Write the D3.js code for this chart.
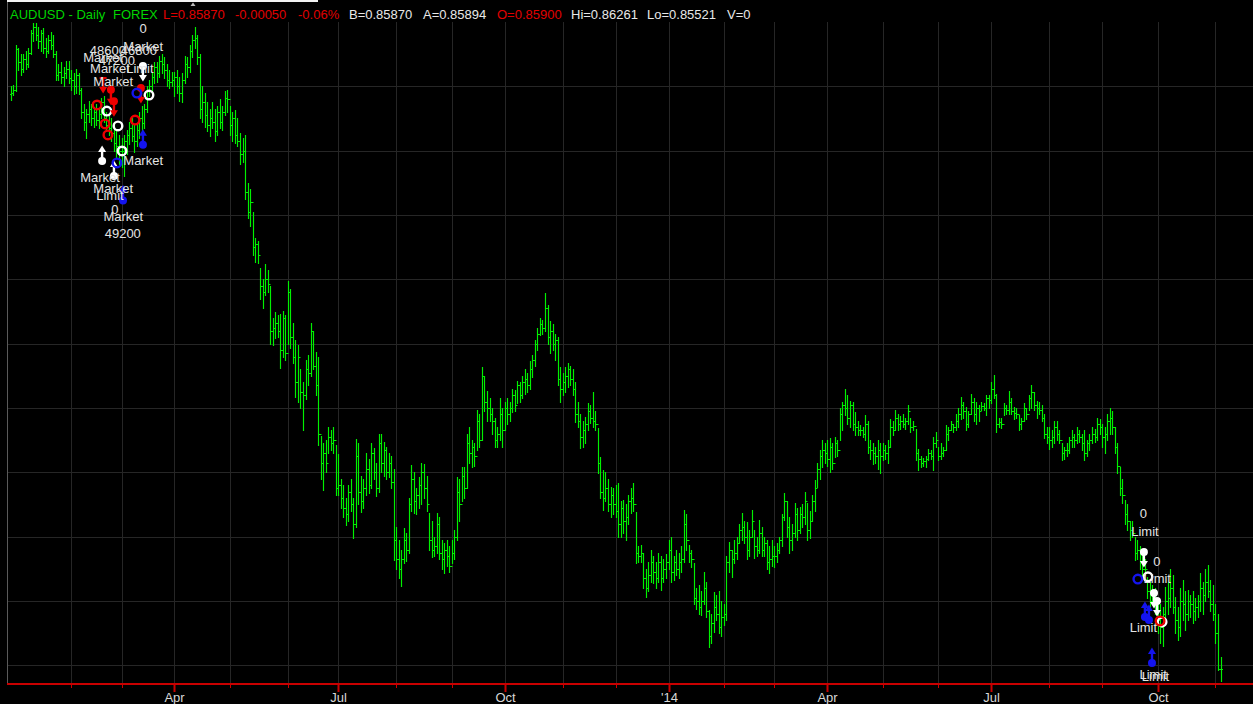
<!DOCTYPE html>
<html><head><meta charset="utf-8">
<script src="https://cdn.jsdelivr.net/npm/d3@7/dist/d3.min.js"></script>
<style>html,body{margin:0;padding:0;background:#000;overflow:hidden}svg{display:block}</style>
</head><body>
<svg id="c" width="1253" height="704"></svg>
<script>
// ---------- DATA ----------
const firstDay = "2012-12-28", lastDay = "2014-11-05";
const holidays = ["12-25", "01-01"];
const firstOpen = 1.0375;

const high = [
1.0400,1.0405,
1.0530,1.0520,1.0500,1.0500,1.0510,1.0520,1.0575,1.0598,1.0596,1.0585,1.0575,1.0580,1.0550,1.0560,1.0570,1.0560,1.0510,1.0470,1.0475,1.0460,1.0480,1.0480,
1.0450,1.0440,1.0455,1.0440,1.0395,1.0345,1.0330,1.0355,1.0345,1.0335,1.0345,1.0330,1.0365,1.0370,1.0320,1.0310,1.0300,1.0285,1.0260,1.0250,
1.0240,1.0250,1.0265,1.0290,1.0300,1.0280,1.0285,1.0320,1.0340,1.0345,1.0400,1.0420,1.0440,1.0475,1.0475,1.0495,1.0500,1.0490,1.0470,1.0450,1.0445,
1.0445,1.0450,1.0430,1.0440,1.0495,1.0490,1.0530,1.0560,1.0583,1.0560,1.0500,1.0400,1.0380,1.0350,1.0330,1.0350,1.0330,1.0340,1.0360,1.0340,1.0385,1.0390,
1.0340,1.0320,1.0325,1.0300,1.0255,1.0240,1.0250,1.0100,1.0080,1.0010,0.9930,0.9920,0.9835,0.9800,0.9848,0.9830,0.9780,0.9680,0.9698,0.9690,0.9692,0.9700,0.9690,
0.9795,0.9770,0.9664,0.9610,0.9596,0.9520,0.9480,0.9550,0.9564,0.9664,0.9640,0.9574,0.9560,0.9313,0.9290,0.9300,0.9340,0.9330,0.9340,0.9285,
0.9256,0.9180,0.9160,0.9120,0.9160,0.9180,0.9120,0.9305,0.9290,0.9190,0.9180,0.9260,0.9240,0.9290,0.9275,0.9230,0.9320,0.9320,0.9295,0.9280,0.9260,0.9250,0.9210,
0.9030,0.8990,0.8960,0.9027,0.9010,0.9120,0.9222,0.9200,0.9150,0.9185,0.9230,0.9225,0.9190,0.9074,0.9050,0.9000,0.9074,0.9060,0.8990,0.8980,0.8990,0.8970,
0.8990,0.9020,0.9185,0.9180,0.9216,0.9215,0.9320,0.9340,0.9300,0.9290,0.9393,0.9380,0.9526,0.9500,0.9454,0.9430,0.9400,0.9370,0.9340,0.9430,0.9400,
0.9420,0.9430,0.9420,0.9460,0.9455,0.9485,0.9480,0.9500,0.9520,0.9510,0.9545,0.9565,0.9610,0.9650,0.9680,0.9675,0.9758,0.9720,0.9670,0.9660,0.9630,0.9620,0.9526,
0.9510,0.9526,0.9540,0.9530,0.9520,0.9480,0.9420,0.9380,0.9360,0.9373,0.9414,0.9410,0.9450,0.9390,0.9338,0.9247,0.9207,0.9200,0.9180,0.9155,0.9150,
0.9160,0.9166,0.9110,0.9114,0.9100,0.9130,0.9150,0.9166,0.9076,0.8970,0.8975,0.8948,0.8900,0.8920,0.8958,0.8940,0.8920,0.8950,0.8940,0.8930,0.8945,
0.8990,0.9000,0.8940,0.8960,0.8950,0.8970,0.9083,0.9070,0.8975,0.8960,0.8918,0.8840,0.8850,0.8830,0.8890,0.8860,0.8772,0.8760,0.8829,0.8820,0.8830,0.8800,
0.8790,0.8940,0.8982,0.8960,0.8990,0.9000,0.9040,0.9074,0.9050,0.9046,0.9020,0.9083,0.9020,0.9000,0.9052,0.9030,0.9000,0.8990,0.8970,0.8990,
0.8970,0.8980,0.9000,0.9070,0.9136,0.9110,0.9062,0.9040,0.9104,0.9090,0.9093,0.9100,0.9140,0.9104,0.9080,0.9130,0.9176,0.9230,0.9270,0.9300,0.9290,
0.9300,0.9306,0.9290,0.9310,0.9300,0.9400,0.9420,0.9460,0.9440,0.9423,0.9420,0.9386,0.9360,0.9346,0.9340,0.9377,0.9360,0.9300,0.9290,0.9280,0.9300,0.9290,
0.9290,0.9285,0.9300,0.9367,0.9360,0.9393,0.9380,0.9375,0.9380,0.9370,0.9408,0.9370,0.9360,0.9336,0.9274,0.9250,0.9245,0.9250,0.9274,0.9270,0.9310,0.9324,
0.9278,0.9290,0.9280,0.9346,0.9340,0.9360,0.9350,0.9380,0.9400,0.9433,0.9420,0.9402,0.9390,0.9445,0.9430,0.9418,0.9410,0.9418,0.9415,0.9440,0.9440,
0.9480,0.9503,0.9445,0.9370,0.9368,0.9414,0.9410,0.9454,0.9430,0.9402,0.9400,0.9377,0.9370,0.9414,0.9400,0.9440,0.9470,0.9450,0.9423,0.9420,0.9410,0.9380,0.9340,
0.9340,0.9330,0.9360,0.9360,0.9330,0.9290,0.9280,0.9290,0.9310,0.9330,0.9320,0.9340,0.9330,0.9320,0.9330,0.9300,0.9320,0.9340,0.9335,0.9370,0.9365,
0.9350,0.9340,0.9380,0.9400,0.9390,0.9340,0.9290,0.9216,0.9180,0.9114,0.9100,0.9050,0.9050,0.9000,0.8990,0.8970,0.8950,0.8930,0.8875,0.8860,0.8850,0.8840,
0.8800,0.8790,0.8780,0.8844,0.8860,0.8900,0.8880,0.8813,0.8780,0.8840,0.8866,0.8830,0.8834,0.8820,0.8830,0.8810,0.8820,0.8887,0.8860,0.8900,0.8912,0.8866,0.8850,
0.8790,0.8760,0.8626];

const low = [
1.0358,1.0372,
1.0385,1.0450,1.0435,1.0445,1.0455,1.0460,1.0500,1.0540,1.0545,1.0520,1.0510,1.0505,1.0490,1.0505,1.0515,1.0490,1.0420,1.0420,1.0410,1.0400,1.0425,1.0410,
1.0390,1.0375,1.0380,1.0375,1.0300,1.0265,1.0240,1.0290,1.0280,1.0275,1.0280,1.0270,1.0300,1.0290,1.0260,1.0250,1.0230,1.0200,1.0180,1.0160,
1.0150,1.0120,1.0190,1.0220,1.0230,1.0195,1.0215,1.0240,1.0260,1.0270,1.0320,1.0370,1.0380,1.0410,1.0415,1.0430,1.0440,1.0425,1.0400,1.0395,1.0400,
1.0370,1.0380,1.0355,1.0350,1.0410,1.0430,1.0445,1.0490,1.0520,1.0470,1.0300,1.0290,1.0275,1.0260,1.0245,1.0270,1.0230,1.0250,1.0270,1.0265,1.0310,1.0320,
1.0250,1.0230,1.0225,1.0215,1.0160,1.0165,1.0050,0.9990,0.9965,0.9875,0.9855,0.9850,0.9740,0.9710,0.9750,0.9760,0.9600,0.9596,0.9617,0.9620,0.9524,0.9560,0.9550,
0.9600,0.9585,0.9540,0.9434,0.9420,0.9400,0.9330,0.9428,0.9470,0.9500,0.9520,0.9440,0.9285,0.9180,0.9145,0.9200,0.9260,0.9270,0.9260,0.9130,
0.9130,0.9090,0.9060,0.9037,0.9050,0.9080,0.8996,0.9030,0.9100,0.9077,0.9090,0.9130,0.9136,0.9150,0.9180,0.9125,0.9140,0.9200,0.9190,0.9180,0.9185,0.9150,0.8928,
0.8900,0.8870,0.8847,0.8918,0.8925,0.8950,0.9080,0.9074,0.9070,0.9090,0.9100,0.9120,0.9080,0.8960,0.8937,0.8940,0.8950,0.8930,0.8900,0.8887,0.8910,0.8890,
0.8918,0.8930,0.8990,0.9050,0.9110,0.9120,0.9150,0.9230,0.9215,0.9220,0.9270,0.9280,0.9300,0.9390,0.9360,0.9360,0.9320,0.9280,0.9280,0.9300,0.9280,
0.9330,0.9350,0.9360,0.9387,0.9390,0.9414,0.9420,0.9430,0.9445,0.9450,0.9460,0.9495,0.9530,0.9580,0.9627,0.9630,0.9640,0.9600,0.9570,0.9580,0.9550,0.9470,0.9420,
0.9440,0.9450,0.9466,0.9470,0.9440,0.9355,0.9340,0.9275,0.9280,0.9290,0.9330,0.9353,0.9340,0.9330,0.9198,0.9120,0.9083,0.9110,0.9080,0.9060,0.9070,
0.9060,0.9000,0.8998,0.9010,0.8990,0.9040,0.9073,0.9080,0.8918,0.8920,0.8922,0.8840,0.8812,0.8830,0.8860,0.8856,0.8840,0.8860,0.8834,0.8860,0.8870,
0.8900,0.8860,0.8866,0.8880,0.8870,0.8890,0.8920,0.8960,0.8920,0.8906,0.8790,0.8774,0.8760,0.8755,0.8790,0.8750,0.8658,0.8670,0.8705,0.8740,0.8700,0.8690,
0.8725,0.8740,0.8890,0.8875,0.8918,0.8930,0.8980,0.8990,0.8980,0.8930,0.8940,0.9000,0.8934,0.8940,0.8950,0.8940,0.8940,0.8900,0.8887,0.8910,
0.8906,0.8920,0.8950,0.8970,0.9052,0.9000,0.8950,0.8960,0.9000,0.8990,0.9011,0.9030,0.9040,0.8990,0.8995,0.9050,0.9080,0.9155,0.9180,0.9216,0.9230,
0.9220,0.9200,0.9210,0.9247,0.9250,0.9300,0.9330,0.9377,0.9350,0.9340,0.9330,0.9315,0.9315,0.9315,0.9310,0.9300,0.9260,0.9240,0.9227,0.9230,0.9210,0.9197,
0.9237,0.9240,0.9230,0.9280,0.9315,0.9330,0.9330,0.9334,0.9340,0.9335,0.9350,0.9324,0.9330,0.9237,0.9206,0.9216,0.9220,0.9216,0.9237,0.9240,0.9206,0.9280,
0.9237,0.9240,0.9250,0.9270,0.9300,0.9330,0.9324,0.9330,0.9340,0.9367,0.9370,0.9330,0.9340,0.9380,0.9360,0.9350,0.9360,0.9393,0.9393,0.9377,0.9400,
0.9414,0.9430,0.9324,0.9340,0.9338,0.9377,0.9380,0.9380,0.9380,0.9367,0.9370,0.9330,0.9335,0.9360,0.9365,0.9393,0.9400,0.9395,0.9370,0.9380,0.9360,0.9306,0.9290,
0.9274,0.9280,0.9290,0.9300,0.9290,0.9237,0.9240,0.9250,0.9260,0.9280,0.9280,0.9290,0.9295,0.9270,0.9237,0.9250,0.9270,0.9290,0.9295,0.9300,0.9320,
0.9280,0.9260,0.9300,0.9320,0.9320,0.9260,0.9197,0.9130,0.9104,0.9040,0.9020,0.8990,0.9000,0.8927,0.8930,0.8900,0.8875,0.8880,0.8810,0.8780,0.8790,0.8760,
0.8700,0.8668,0.8660,0.8740,0.8760,0.8780,0.8763,0.8700,0.8678,0.8690,0.8740,0.8710,0.8740,0.8750,0.8730,0.8740,0.8750,0.8770,0.8760,0.8800,0.8813,0.8770,0.8740,
0.8670,0.8585,0.8552];

const close = [
1.0380,1.0388,
1.0515,1.0475,1.0455,1.0485,1.0470,1.0505,1.0565,1.0585,1.0560,1.0540,1.0565,1.0520,1.0510,1.0545,1.0530,1.0500,1.0435,1.0445,1.0430,1.0440,1.0455,1.0425,
1.0420,1.0400,1.0435,1.0390,1.0320,1.0290,1.0315,1.0330,1.0300,1.0320,1.0295,1.0315,1.0350,1.0300,1.0280,1.0270,1.0255,1.0225,1.0215,1.0200,
1.0200,1.0230,1.0250,1.0270,1.0245,1.0230,1.0265,1.0300,1.0285,1.0330,1.0390,1.0400,1.0430,1.0460,1.0440,1.0480,1.0470,1.0450,1.0420,1.0415,1.0420,
1.0430,1.0400,1.0380,1.0420,1.0470,1.0460,1.0510,1.0545,1.0550,1.0490,1.0330,1.0350,1.0310,1.0280,1.0300,1.0290,1.0260,1.0320,1.0290,1.0320,1.0365,1.0360,
1.0280,1.0300,1.0250,1.0230,1.0190,1.0200,1.0070,1.0010,1.0040,0.9900,0.9910,0.9875,0.9780,0.9760,0.9800,0.9785,0.9640,0.9650,0.9665,0.9640,0.9580,0.9680,0.9570,
0.9760,0.9620,0.9560,0.9480,0.9560,0.9450,0.9440,0.9520,0.9510,0.9640,0.9530,0.9470,0.9320,0.9230,0.9260,0.9230,0.9310,0.9290,0.9300,0.9150,
0.9160,0.9120,0.9090,0.9070,0.9140,0.9100,0.9040,0.9250,0.9140,0.9110,0.9150,0.9210,0.9160,0.9260,0.9200,0.9150,0.9290,0.9230,0.9270,0.9200,0.9230,0.9170,0.8990,
0.8930,0.8900,0.8930,0.8990,0.8960,0.9100,0.9180,0.9110,0.9130,0.9160,0.9200,0.9150,0.9100,0.8990,0.8960,0.8970,0.9040,0.8950,0.8930,0.8960,0.8940,0.8910,
0.8950,0.9000,0.9140,0.9100,0.9190,0.9150,0.9290,0.9260,0.9280,0.9250,0.9360,0.9300,0.9500,0.9420,0.9400,0.9380,0.9360,0.9300,0.9320,0.9380,0.9330,
0.9400,0.9380,0.9400,0.9440,0.9410,0.9470,0.9440,0.9480,0.9490,0.9470,0.9520,0.9550,0.9600,0.9630,0.9660,0.9650,0.9710,0.9620,0.9640,0.9600,0.9610,0.9490,0.9460,
0.9480,0.9500,0.9520,0.9490,0.9460,0.9380,0.9360,0.9310,0.9330,0.9350,0.9390,0.9370,0.9360,0.9350,0.9230,0.9140,0.9120,0.9150,0.9100,0.9130,0.9100,
0.9080,0.9040,0.9090,0.9050,0.9060,0.9110,0.9120,0.9100,0.8950,0.8940,0.8950,0.8870,0.8840,0.8880,0.8920,0.8890,0.8870,0.8920,0.8870,0.8900,0.8920,
0.8960,0.8890,0.8920,0.8900,0.8920,0.8930,0.9040,0.8990,0.8950,0.8930,0.8810,0.8800,0.8780,0.8800,0.8840,0.8770,0.8690,0.8730,0.8780,0.8760,0.8720,0.8750,
0.8760,0.8920,0.8960,0.8930,0.8950,0.8980,0.9020,0.9030,0.9000,0.8960,0.9000,0.9050,0.8970,0.8960,0.9010,0.8960,0.8980,0.8920,0.8930,0.8940,
0.8940,0.8960,0.8990,0.9060,0.9110,0.9030,0.8990,0.9010,0.9070,0.9020,0.9070,0.9060,0.9110,0.9020,0.9050,0.9110,0.9150,0.9210,0.9250,0.9270,0.9260,
0.9240,0.9280,0.9230,0.9290,0.9270,0.9380,0.9410,0.9400,0.9370,0.9410,0.9350,0.9340,0.9330,0.9330,0.9320,0.9350,0.9280,0.9270,0.9260,0.9250,0.9270,0.9250,
0.9270,0.9260,0.9280,0.9340,0.9330,0.9370,0.9350,0.9360,0.9350,0.9360,0.9390,0.9340,0.9345,0.9260,0.9240,0.9230,0.9235,0.9240,0.9260,0.9250,0.9290,0.9300,
0.9250,0.9260,0.9270,0.9320,0.9330,0.9350,0.9340,0.9360,0.9380,0.9410,0.9390,0.9350,0.9380,0.9420,0.9380,0.9400,0.9390,0.9405,0.9400,0.9430,0.9425,
0.9460,0.9440,0.9350,0.9355,0.9350,0.9400,0.9395,0.9420,0.9390,0.9385,0.9380,0.9350,0.9360,0.9400,0.9380,0.9430,0.9450,0.9410,0.9400,0.9395,0.9370,0.9320,0.9310,
0.9300,0.9310,0.9340,0.9320,0.9300,0.9260,0.9270,0.9270,0.9300,0.9310,0.9300,0.9320,0.9310,0.9290,0.9260,0.9290,0.9300,0.9320,0.9310,0.9350,0.9340,
0.9310,0.9320,0.9360,0.9370,0.9340,0.9280,0.9220,0.9150,0.9130,0.9070,0.9050,0.9020,0.9010,0.8950,0.8960,0.8920,0.8900,0.8900,0.8830,0.8800,0.8810,0.8780,
0.8740,0.8720,0.8760,0.8800,0.8810,0.8840,0.8780,0.8740,0.8720,0.8800,0.8790,0.8760,0.8800,0.8790,0.8770,0.8780,0.8800,0.8840,0.8820,0.8860,0.8830,0.8790,0.8760,
0.8700,0.8590,0.8587];

const quarterLabels = ["Apr", "Jul", "Oct", "'14", "Apr", "Jul", "Oct"];
const gridPrices = [0.86, 0.88, 0.90, 0.92, 0.94, 0.96, 0.98, 1.00, 1.02, 1.04];

const titleParts = ["AUDUSD - Daily", "FOREX", "L=0.85870", "-0.00050", "-0.06%", "B=0.85870", "A=0.85894", "O=0.85900", "Hi=0.86261", "Lo=0.85521", "V=0"];
const titleKinds = ["name", "name", "down", "down", "down", "info", "info", "down", "info", "info", "info"];

// trade markers: bar index, price, shape, side
const mkIdx   = [52.5, 54.9, 38.2, 42.6, 44.2, 36.3, 41.0, 449.6, 451.2, 453.6, 454.8, 456.8,
                 36.7, 39.8, 41.0, 34.3, 37.5, 38.6, 49.4, 51.7, 456.0,
                 50.1, 42.2, 52.5, 44.6, 447.2, 450.0, 451.6, 452.8];
const mkPrice = [1.0463, 1.0373, 1.0323, 1.0277, 1.0199, 1.0168, 1.0121, 0.8952, 0.8875, 0.8825, 0.8800, 0.8735,
                 1.0426, 1.0389, 1.0354, 1.0342, 1.0283, 1.0249, 1.0295, 1.0395, 0.8738,
                 1.0379, 1.0162, 1.0218, 1.0045, 0.8868, 0.8750, 0.8741, 0.8607];
const mkShape = ["dotDown","ring","ring","ring","ring","upDot","upDot","dotDown","ring","dotDown","dotDown","ring",
                 "down","dotDown","dotDown","ring","ring","ring","ring","dotDown","ring",
                 "ring","ring","upDot","upDot","ring","upDot","upDot","upDot"];
const mkSide  = ["W","W","W","W","W","W","W","W","W","W","W","W",
                 "R","R","R","R","R","R","R","R","R",
                 "B","B","B","B","B","B","B","B"];

// trade labels: text, bar index, price
const lbText  = ["0","Market","48600","46800","Market","47200","Market","Limit","Market","Market","Market","Market","Limit","0","Market","49200",
                 "0","Limit","0","Limit","Limit","Limit","Limit"];
const lbIdx   = [52.6, 52.6, 38.6, 50.9, 36.7, 42.2, 39.4, 51.3, 40.7, 52.6, 35.5, 40.7, 39.4, 41.4, 44.7, 44.5,
                 449.4, 450.0, 454.7, 454.9, 449.4, 453.3, 454.2];
const lbPrice = [1.0580, 1.0526, 1.0513, 1.0513, 1.0491, 1.0482, 1.0456, 1.0458, 1.0417, 1.0171, 1.0117, 1.0083, 1.0062, 1.0019, 0.9998, 0.9943,
                 0.9073, 0.9019, 0.8924, 0.8871, 0.8720, 0.8573, 0.8568];

// ---------- DRAW ----------
const W = 1253, H = 704;
const svg = d3.select("#c");
const FONT = "'Liberation Sans', Arial, sans-serif";

// trading calendar
const dates = [];
{
  const d = new Date(firstDay + "T12:00:00"), e = new Date(lastDay + "T12:00:00");
  for (; d <= e; d.setDate(d.getDate() + 1)) {
    const wd = d.getDay();
    if (wd === 0 || wd === 6) continue;
    const md = String(d.getMonth() + 1).padStart(2, "0") + "-" + String(d.getDate()).padStart(2, "0");
    if (holidays.includes(md)) continue;
    dates.push(new Date(d));
  }
}
const n = close.length;

const plot = { left: 7, right: W, top: 22, bottom: 684 };
const x = d3.scaleLinear().domain([0, n - 1]).range([10.6, 10.6 + (n - 1) * 2.5207]);
const y = d3.scaleLinear().domain([0.86, 1.06]).range([665.3, 22]);
const px = v => Math.round(x(v)) + 0.5;

svg.append("rect").attr("width", W).attr("height", H).attr("fill", "#000");

// month starts
const monthStarts = d3.range(1, n).filter(i => dates[i].getMonth() !== dates[i - 1].getMonth() && i > 5);
const quarterStarts = monthStarts.filter(i => dates[i].getMonth() % 3 === 0);

// grid
const grid = svg.append("g").attr("stroke", "#262626").attr("stroke-width", 1);
grid.selectAll("line.h").data(gridPrices).join("line")
  .attr("x1", plot.left).attr("x2", plot.right)
  .attr("y1", d => Math.round(y(d)) + 0.5).attr("y2", d => Math.round(y(d)) + 0.5);
grid.selectAll("line.v").data(monthStarts).join("line")
  .attr("x1", d => px(d)).attr("x2", d => px(d))
  .attr("y1", plot.top).attr("y2", plot.bottom);

// left border
svg.append("line").attr("x1", 7.5).attr("x2", 7.5).attr("y1", 0).attr("y2", plot.bottom)
  .attr("stroke", "#5a5a5a").attr("stroke-width", 1);

// OHLC bars
const open = close.map((c, i) => i === 0 ? firstOpen : close[i - 1]);
svg.append("g").attr("stroke", "#00f000").attr("stroke-width", 1.15).attr("fill", "none")
  .selectAll("path").data(d3.range(n)).join("path")
  .attr("d", i => {
    const cx = px(i);
    const yh = Math.round(y(high[i])), yl = Math.round(y(low[i]));
    const yo = Math.round(y(open[i])) + 0.5, yc = Math.round(y(close[i])) + 0.5;
    return `M${cx},${yh}V${yl + 1}M${cx - 1.5},${yo}H${cx}M${cx},${yc}H${cx + 1.5}`;
  });

// axis
const axisG = svg.append("g").attr("transform", `translate(0,${plot.bottom})`);
axisG.append("line").attr("x1", plot.left).attr("x2", W).attr("y1", 0).attr("y2", 0)
  .attr("stroke", "#c80000").attr("stroke-width", 2);
const minorAxis = d3.axisBottom(x).tickValues(monthStarts).tickSize(4).tickFormat("");
const majorAxis = d3.axisBottom(x).tickValues(quarterStarts).tickSize(8).tickFormat((d, k) => quarterLabels[k]);
const gMinor = axisG.append("g").call(minorAxis);
const gMajor = axisG.append("g").call(majorAxis);
[gMinor, gMajor].forEach(g => {
  g.select(".domain").remove();
  g.selectAll(".tick line").attr("stroke", "#c80000");
});
gMinor.selectAll(".tick").attr("transform", d => `translate(${px(d)},0)`);
gMajor.selectAll(".tick").attr("transform", d => `translate(${px(d)},0)`);
gMajor.selectAll(".tick line").attr("stroke-width", 2);
gMajor.selectAll(".tick text").attr("fill", "#d8d8d8").attr("font-family", FONT)
  .attr("font-size", 13).attr("y", 9).attr("dy", "0.71em");

// markers
const sideColor = { W: "#ffffff", R: "#ee0000", B: "#1414ee" };
const mk = svg.append("g");
mkIdx.forEach((iv, k) => {
  const cx = x(iv), cy = y(mkPrice[k]), col = sideColor[mkSide[k]], s = mkShape[k];
  if (s === "ring") {
    mk.append("circle").attr("cx", cx).attr("cy", cy).attr("r", 4.3).attr("fill", "none")
      .attr("stroke", col).attr("stroke-width", 2.4);
  } else if (s === "dotDown" || s === "down") {
    if (s === "dotDown") mk.append("circle").attr("cx", cx).attr("cy", cy).attr("r", 4).attr("fill", col);
    else mk.append("line").attr("x1", cx - 3.5).attr("x2", cx + 3.5).attr("y1", cy).attr("y2", cy).attr("stroke", col).attr("stroke-width", 2);
    mk.append("line").attr("x1", cx).attr("x2", cx).attr("y1", cy).attr("y2", cy + 11).attr("stroke", col).attr("stroke-width", 2.4);
    mk.append("path").attr("d", `M${cx - 4},${cy + 9}L${cx + 4},${cy + 9}L${cx},${cy + 15.5}Z`).attr("fill", col);
  } else if (s === "upDot") {
    mk.append("circle").attr("cx", cx).attr("cy", cy).attr("r", 4).attr("fill", col);
    mk.append("line").attr("x1", cx).attr("x2", cx).attr("y1", cy).attr("y2", cy - 11).attr("stroke", col).attr("stroke-width", 2.4);
    mk.append("path").attr("d", `M${cx - 4},${cy - 9}L${cx + 4},${cy - 9}L${cx},${cy - 15.5}Z`).attr("fill", col);
  }
});

// trade labels
svg.append("g").attr("font-family", FONT).attr("font-size", 13).attr("fill", "#e4e4e4")
  .attr("text-anchor", "middle")
  .selectAll("text").data(lbText).join("text")
  .attr("x", (d, k) => x(lbIdx[k])).attr("y", (d, k) => y(lbPrice[k]) + 5)
  .text(d => d);

// title
const titleX = [10, 113, 163, 235, 298, 349, 423, 497, 571, 647, 727];
const titleColor = { name: "#00d400", down: "#e00000", info: "#e8e8e8" };
svg.append("g").attr("font-family", FONT).attr("font-size", 13)
  .selectAll("text").data(titleParts).join("text")
  .attr("x", (d, k) => titleX[k]).attr("y", 19)
  .attr("fill", (d, k) => titleColor[titleKinds[k]])
  .text(d => d);

// top strip
svg.append("rect").attr("x", 7).attr("y", 0).attr("width", 311).attr("height", 2).attr("fill", "#f2f2f2");
svg.append("path").attr("d", "M190.5,6L193,2.5L195.5,6Z").attr("fill", "#bbbbbb");
</script>
</body></html>
